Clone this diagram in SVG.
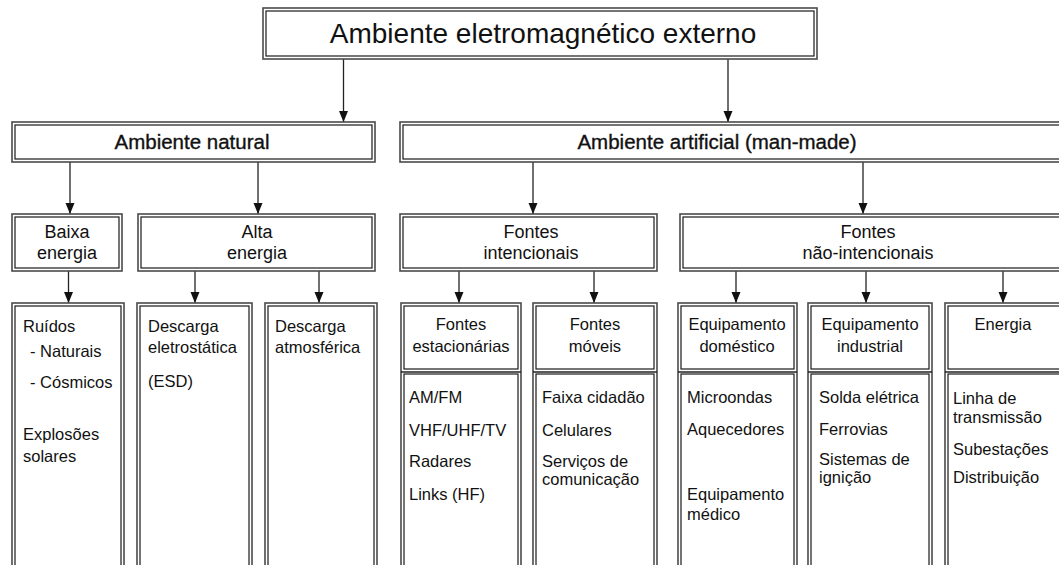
<svg xmlns="http://www.w3.org/2000/svg" width="1059" height="565" viewBox="0 0 1059 565">
<style>
.o{fill:none;stroke:#4a4a4a;stroke-width:1.6}
.i{fill:none;stroke:#1a1a1a;stroke-width:1.2}
.c{fill:none;stroke:#222;stroke-width:1.3}
text{font-family:"Liberation Sans",Arial,sans-serif;fill:#111}
.t0{font-size:28px;text-anchor:middle}
.t1{font-size:20.5px;text-anchor:middle;stroke:#111;stroke-width:0.35}
.t2{font-size:18px;text-anchor:middle}
.t3{font-size:16.5px;text-anchor:middle}
.t4{font-size:16.5px}
</style>
<defs>
<marker id="ah" markerUnits="userSpaceOnUse" markerWidth="12" markerHeight="10" viewBox="0 -5 12 10" refX="11" refY="0" orient="auto">
<path d="M0,-4.5 L11,0 L0,4.5 z" fill="#111"/>
</marker>
</defs>
<rect width="1059" height="565" fill="#fff"/>

<g id="connectors">
<line class="c" x1="343.5" y1="59" x2="343.5" y2="122" marker-end="url(#ah)"/>
<line class="c" x1="728" y1="59" x2="728" y2="122" marker-end="url(#ah)"/>
<line class="c" x1="70" y1="162" x2="70" y2="214" marker-end="url(#ah)"/>
<line class="c" x1="258" y1="162" x2="258" y2="214" marker-end="url(#ah)"/>
<line class="c" x1="533" y1="162" x2="533" y2="214" marker-end="url(#ah)"/>
<line class="c" x1="863" y1="162" x2="863" y2="214" marker-end="url(#ah)"/>
<line class="c" x1="68.5" y1="271" x2="68.5" y2="303" marker-end="url(#ah)"/>
<line class="c" x1="195" y1="271" x2="195" y2="303" marker-end="url(#ah)"/>
<line class="c" x1="319" y1="271" x2="319" y2="303" marker-end="url(#ah)"/>
<line class="c" x1="459" y1="271" x2="459" y2="303" marker-end="url(#ah)"/>
<line class="c" x1="594" y1="271" x2="594" y2="303" marker-end="url(#ah)"/>
<line class="c" x1="736" y1="271" x2="736" y2="303" marker-end="url(#ah)"/>
<line class="c" x1="866" y1="271" x2="866" y2="303" marker-end="url(#ah)"/>
<line class="c" x1="1003" y1="271" x2="1003" y2="303" marker-end="url(#ah)"/>
</g>

<g id="externo">
<rect class="o" x="263" y="8" width="554" height="51"/>
<rect class="i" x="266" y="11" width="548" height="45"/>
<text class="t0" x="543" y="43">Ambiente eletromagnético externo</text>
</g>

<g id="natural">
<rect class="o" x="12" y="122" width="363" height="40"/>
<rect class="i" x="15" y="125" width="357" height="34"/>
<text class="t1" x="192" y="149">Ambiente natural</text>
</g>

<g id="artificial">
<rect class="o" x="400" y="122" width="680" height="40"/>
<rect class="i" x="403" y="125" width="680" height="34"/>
<text class="t1" x="717" y="149">Ambiente artificial (man-made)</text>
</g>

<g id="baixa">
<rect class="o" x="12" y="214" width="110" height="57"/>
<rect class="i" x="15" y="217" width="104" height="51"/>
<text class="t2" x="67" y="238">Baixa</text>
<text class="t2" x="67" y="259">energia</text>
</g>

<g id="alta">
<rect class="o" x="138" y="214" width="237" height="57"/>
<rect class="i" x="141" y="217" width="231" height="51"/>
<text class="t2" x="257" y="238">Alta</text>
<text class="t2" x="257" y="259">energia</text>
</g>

<g id="intencionais">
<rect class="o" x="400" y="214" width="257" height="57"/>
<rect class="i" x="403" y="217" width="251" height="51"/>
<text class="t2" x="531" y="238">Fontes</text>
<text class="t2" x="531" y="259">intencionais</text>
</g>

<g id="nao-intencionais">
<rect class="o" x="680" y="214" width="400" height="57"/>
<rect class="i" x="683" y="217" width="400" height="51"/>
<text class="t2" x="868" y="238">Fontes</text>
<text class="t2" x="868" y="259">não-intencionais</text>
</g>

<g id="ruidos">
<rect class="o" x="12" y="303" width="112" height="280"/>
<rect class="i" x="15" y="306" width="106" height="280"/>
<text class="t4" x="23" y="332">Ruídos</text>
<text class="t4" x="30" y="357">- Naturais</text>
<text class="t4" x="30" y="388">- Cósmicos</text>
<text class="t4" x="23" y="440">Explosões</text>
<text class="t4" x="23" y="462">solares</text>
</g>

<g id="eletrostatica">
<rect class="o" x="137" y="303" width="115" height="280"/>
<rect class="i" x="140" y="306" width="109" height="280"/>
<text class="t4" x="148" y="332">Descarga</text>
<text class="t4" x="148" y="353">eletrostática</text>
<text class="t4" x="148" y="387">(ESD)</text>
</g>

<g id="atmosferica">
<rect class="o" x="265" y="303" width="112" height="280"/>
<rect class="i" x="268" y="306" width="106" height="280"/>
<text class="t4" x="275" y="332">Descarga</text>
<text class="t4" x="275" y="353">atmosférica</text>
</g>

<g id="estacionarias">
<rect class="o" x="401" y="303" width="120" height="280"/>
<rect class="i" x="404" y="306" width="114" height="63"/>
<rect class="i" x="404" y="374" width="114" height="220"/>
<line x1="401" y1="372" x2="521" y2="372" stroke="#222" stroke-width="1.6"/>
<text class="t3" x="461" y="330">Fontes</text>
<text class="t3" x="461" y="352">estacionárias</text>
<text class="t4" x="409" y="403">AM/FM</text>
<text class="t4" x="409" y="436">VHF/UHF/TV</text>
<text class="t4" x="409" y="467">Radares</text>
<text class="t4" x="409" y="500">Links (HF)</text>
</g>

<g id="moveis">
<rect class="o" x="533" y="303" width="124" height="280"/>
<rect class="i" x="536" y="306" width="118" height="63"/>
<rect class="i" x="536" y="374" width="118" height="220"/>
<line x1="533" y1="372" x2="657" y2="372" stroke="#222" stroke-width="1.6"/>
<text class="t3" x="595" y="330">Fontes</text>
<text class="t3" x="595" y="352">móveis</text>
<text class="t4" x="542" y="403">Faixa cidadão</text>
<text class="t4" x="542" y="436">Celulares</text>
<text class="t4" x="542" y="467">Serviços de</text>
<text class="t4" x="542" y="485">comunicação</text>
</g>

<g id="domestico">
<rect class="o" x="678" y="303" width="119" height="280"/>
<rect class="i" x="681" y="306" width="113" height="63"/>
<rect class="i" x="681" y="374" width="113" height="220"/>
<line x1="678" y1="372" x2="797" y2="372" stroke="#222" stroke-width="1.6"/>
<text class="t3" x="737" y="330">Equipamento</text>
<text class="t3" x="737" y="352">doméstico</text>
<text class="t4" x="687" y="403">Microondas</text>
<text class="t4" x="687" y="435">Aquecedores</text>
<text class="t4" x="687" y="500">Equipamento</text>
<text class="t4" x="687" y="520">médico</text>
</g>

<g id="industrial">
<rect class="o" x="808" y="303" width="124" height="280"/>
<rect class="i" x="811" y="306" width="118" height="63"/>
<rect class="i" x="811" y="374" width="118" height="220"/>
<line x1="808" y1="372" x2="932" y2="372" stroke="#222" stroke-width="1.6"/>
<text class="t3" x="870" y="330">Equipamento</text>
<text class="t3" x="870" y="352">industrial</text>
<text class="t4" x="819" y="403">Solda elétrica</text>
<text class="t4" x="819" y="435">Ferrovias</text>
<text class="t4" x="819" y="465">Sistemas de</text>
<text class="t4" x="819" y="483">ignição</text>
</g>

<g id="energia">
<rect class="o" x="945" y="303" width="140" height="280"/>
<rect class="i" x="948" y="306" width="140" height="63"/>
<rect class="i" x="948" y="374" width="140" height="220"/>
<line x1="945" y1="372" x2="1059" y2="372" stroke="#222" stroke-width="1.6"/>
<text class="t3" x="1003" y="330">Energia</text>
<text class="t4" x="953" y="404">Linha de</text>
<text class="t4" x="953" y="423">transmissão</text>
<text class="t4" x="953" y="455">Subestações</text>
<text class="t4" x="953" y="483">Distribuição</text>
</g>
</svg>
